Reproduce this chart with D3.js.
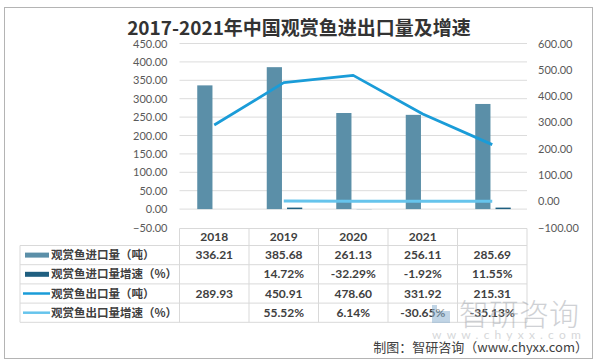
<!DOCTYPE html>
<html>
<head>
<meta charset="utf-8">
<script src="https://cdn.jsdelivr.net/npm/d3@7"></script>
<style>
  body { margin: 0; background: #fff; }
  svg { display: block; }
</style>
</head>
<body>
<div id="chart"></div>
<script>
// data
const categories = ['2018', '2019', '2020', '2021', ''];
const importVolume = [336.21, 385.68, 261.13, 256.11, 285.69];
const importGrowth = [null, 14.72, -32.29, -1.92, 11.55];   // percent
const exportVolume = [289.93, 450.91, 478.60, 331.92, 215.31];
const exportGrowth = [null, 55.52, 6.14, -30.65, -35.13];   // percent
const leftTicks = [-50, 0, 50, 100, 150, 200, 250, 300, 350, 400, 450];
const rightTicks = [-100, 0, 100, 200, 300, 400, 500, 600];

const series = [
  { name: '观赏鱼进口量（吨）', type: 'bar', color: '#5b8fa8', values: importVolume, fmt: v => v.toFixed(2) },
  { name: '观赏鱼进口量增速（%）', type: 'bar', color: '#1f5f80', values: importGrowth, fmt: v => v.toFixed(2) + '%' },
  { name: '观赏鱼出口量（吨）', type: 'line', color: '#1a9cd8', values: exportVolume, fmt: v => v.toFixed(2) },
  { name: '观赏鱼出口量增速（%）', type: 'line', color: '#66c4ec', values: exportGrowth, fmt: v => v.toFixed(2) + '%' }
];

const width = 600, height = 364;
const plot = { left: 179.5, right: 527, top: 43.5, bottom: 227.5 };
const table = { headerTop: 228.5, headerH: 17, rowH: 19.2, legendLeft: 20 };
const numFont = 'Lato, "Open Sans", sans-serif';
const cjkFont = '"Noto Sans CJK SC", "Noto Sans", sans-serif';

const svg = d3.select('#chart').append('svg')
  .attr('width', width)
  .attr('height', height);

// outer frame
svg.append('rect')
  .attr('x', 4.5).attr('y', 7.5)
  .attr('width', 588).attr('height', 351)
  .attr('fill', '#fff')
  .attr('stroke', '#b4b4b4');

// title
svg.append('text')
  .attr('x', 299).attr('y', 35)
  .attr('text-anchor', 'middle')
  .attr('font-family', cjkFont)
  .attr('font-size', 19)
  .attr('font-weight', 'bold')
  .attr('fill', '#333')
  .text('2017-2021年中国观赏鱼进出口量及增速');

// scales
const x = d3.scaleBand()
  .domain(d3.range(categories.length))
  .range([plot.left, plot.right])
  .padding(0);
const xInner = d3.scaleBand()
  .domain([0, 1])
  .range([-17, 18.5])
  .paddingInner(0.25);
const yLeft = d3.scaleLinear().domain([-50, 450]).range([plot.bottom, plot.top]);
const yRight = d3.scaleLinear().domain([-100, 600]).range([plot.bottom, plot.top]);
const cx = i => x(i) + x.bandwidth() / 2;

// gridlines
svg.append('g')
  .selectAll('line')
  .data(leftTicks.filter(t => t > -50))
  .join('line')
  .attr('x1', plot.left).attr('x2', plot.right)
  .attr('y1', d => yLeft(d)).attr('y2', d => yLeft(d))
  .attr('stroke', '#dcdcdc')
  .attr('stroke-width', 1);

// left axis
const leftAxis = svg.append('g')
  .attr('transform', `translate(${plot.left - 12}, 0)`)
  .call(d3.axisLeft(yLeft).tickValues(leftTicks).tickFormat(d3.format('.2f')).tickSize(0).tickPadding(0));
leftAxis.select('.domain').remove();
leftAxis.selectAll('text')
  .attr('font-family', numFont).attr('font-size', 11).attr('fill', '#595959');

// right axis
const rightAxis = svg.append('g')
  .attr('transform', `translate(${plot.right + 11}, 0)`)
  .call(d3.axisRight(yRight).tickValues(rightTicks).tickFormat(d3.format('.2f')).tickSize(0).tickPadding(0));
rightAxis.select('.domain').remove();
rightAxis.selectAll('text')
  .attr('font-family', numFont).attr('font-size', 11).attr('fill', '#595959');

// bars (growth rates drawn as fractions on the left axis, like the source sheet)
series.filter(s => s.type === 'bar').forEach((s, k) => {
  const vals = s.values.map(v => v == null ? null : (k === 1 ? v / 100 : v));
  svg.append('g')
    .selectAll('rect')
    .data(vals.map((v, i) => ({ v, i })).filter(d => d.v != null))
    .join('rect')
    .attr('x', d => cx(d.i) + xInner(k))
    .attr('width', xInner.bandwidth())
    .attr('y', d => d.v >= 0 ? yLeft(0) - Math.max(yLeft(0) - yLeft(d.v), 1.5) : yLeft(0))
    .attr('height', d => d.v >= 0 ? Math.max(yLeft(0) - yLeft(d.v), 1.5) : yLeft(d.v) - yLeft(0))
    .attr('fill', s.color);
});

// lines on the right axis
const line = d3.line()
  .defined(d => d.v != null)
  .x(d => cx(d.i))
  .y(d => yRight(d.v));
series.filter(s => s.type === 'line').forEach((s, k) => {
  const vals = s.values.map((v, i) => ({ i, v: v == null ? null : (k === 1 ? v / 100 : v) }));
  svg.append('path')
    .datum(vals)
    .attr('d', line)
    .attr('fill', 'none')
    .attr('stroke', s.color)
    .attr('stroke-width', k === 1 ? 3 : 2.75)
    .attr('stroke-linejoin', 'round');
});

// data table
const tbl = svg.append('g');
const rowsTop = table.headerTop + table.headerH;
const tableBottom = rowsTop + table.rowH * series.length;
const border = '#d9d9d9';

// header top + column lines
tbl.append('line')
  .attr('x1', plot.left).attr('x2', plot.right)
  .attr('y1', table.headerTop).attr('y2', table.headerTop)
  .attr('stroke', border);
tbl.selectAll('line.col')
  .data(d3.range(categories.length + 1))
  .join('line')
  .attr('class', 'col')
  .attr('x1', i => plot.left + i * x.bandwidth())
  .attr('x2', i => plot.left + i * x.bandwidth())
  .attr('y1', table.headerTop).attr('y2', tableBottom)
  .attr('stroke', border);
// row lines
tbl.selectAll('line.row')
  .data(d3.range(series.length + 1))
  .join('line')
  .attr('class', 'row')
  .attr('x1', table.legendLeft).attr('x2', plot.right)
  .attr('y1', i => rowsTop + i * table.rowH)
  .attr('y2', i => rowsTop + i * table.rowH)
  .attr('stroke', border);
tbl.append('line')
  .attr('x1', table.legendLeft).attr('x2', table.legendLeft)
  .attr('y1', rowsTop).attr('y2', tableBottom)
  .attr('stroke', border);

// header labels
tbl.selectAll('text.head')
  .data(categories)
  .join('text')
  .attr('class', 'head')
  .attr('x', (d, i) => cx(i))
  .attr('y', table.headerTop + table.headerH / 2 + 4)
  .attr('text-anchor', 'middle')
  .attr('font-family', numFont).attr('font-size', 12).attr('font-weight', 'bold')
  .attr('fill', '#404040')
  .text(d => d);

series.forEach((s, r) => {
  const yMid = rowsTop + r * table.rowH + table.rowH / 2;
  // legend key
  if (s.type === 'bar') {
    tbl.append('rect')
      .attr('x', 25).attr('y', yMid - 2.5)
      .attr('width', 24).attr('height', 5)
      .attr('fill', s.color);
  } else {
    tbl.append('line')
      .attr('x1', 23).attr('x2', 50)
      .attr('y1', yMid).attr('y2', yMid)
      .attr('stroke', s.color).attr('stroke-width', 2.5);
  }
  tbl.append('text')
    .attr('x', 51).attr('y', yMid + 4)
    .attr('font-family', cjkFont).attr('font-size', 11.5).attr('font-weight', 'bold')
    .attr('fill', '#404040')
    .text(s.name);
  // values
  tbl.append('g')
    .selectAll('text')
    .data(s.values.map((v, i) => ({ v, i })).filter(d => d.v != null))
    .join('text')
    .attr('x', d => cx(d.i))
    .attr('y', yMid + 4)
    .attr('text-anchor', 'middle')
    .attr('font-family', numFont).attr('font-size', 12).attr('font-weight', 'bold')
    .attr('fill', '#404040')
    .text(d => s.fmt(d.v));
});

// watermark
const wm = svg.append('g').attr('opacity', 0.55);
wm.append('rect')
  .attr('x', 432).attr('y', 305).attr('width', 18).attr('height', 18)
  .attr('fill', '#8fb4d2');
wm.append('rect')
  .attr('x', 437).attr('y', 305).attr('width', 13).attr('height', 6)
  .attr('fill', '#fff');
wm.append('text')
  .attr('x', 459).attr('y', 325)
  .attr('font-family', cjkFont).attr('font-size', 30).attr('font-weight', 300)
  .attr('fill', '#a9adb3')
  .text('智研咨询');
wm.append('text')
  .attr('x', 432).attr('y', 339)
  .attr('font-family', numFont).attr('font-size', 12)
  .attr('letter-spacing', 5.2)
  .attr('fill', '#b5b8bc')
  .text('www.chyxx.com');

// source line
svg.append('text')
  .attr('x', 588).attr('y', 352)
  .attr('text-anchor', 'end')
  .attr('font-family', cjkFont).attr('font-size', 13)
  .attr('fill', '#404040')
  .text('制图：智研咨询（www.chyxx.com）');
</script>
</body>
</html>
